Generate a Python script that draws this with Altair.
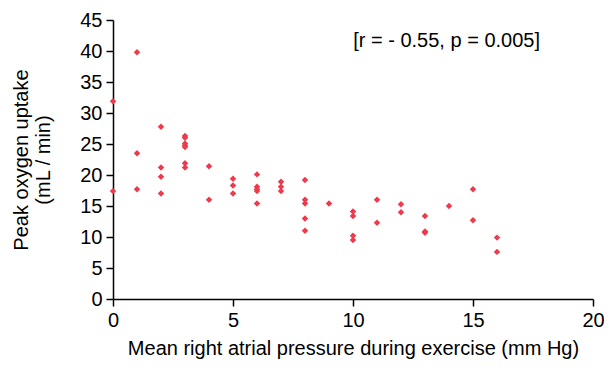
import altair as alt
import pandas as pd

pressure = [0, 0,
            1, 1, 1,
            2, 2, 2, 2,
            3, 3, 3, 3, 3, 3, 3,
            4, 4,
            5, 5, 5,
            6, 6, 6, 6, 6,
            7, 7, 7,
            8, 8, 8, 8, 8,
            9,
            10, 10, 10, 10,
            11, 11,
            12, 12,
            13, 13, 13,
            14,
            15, 15,
            16, 16]
uptake = [31.9, 17.4,
          39.8, 23.5, 17.7,
          27.8, 21.2, 19.7, 17.0,
          26.3, 26.0, 24.8, 24.5, 21.9, 21.2, 25.1,
          21.4, 16.0,
          19.4, 18.3, 17.0,
          20.1, 18.1, 17.7, 17.4, 15.4,
          18.9, 18.1, 17.4,
          19.2, 16.0, 15.4, 13.0, 11.0,
          15.4,
          14.1, 13.4, 10.2, 9.5,
          16.0, 12.3,
          15.3, 14.0,
          13.4, 10.9, 10.7,
          15.0,
          17.7, 12.7,
          9.9, 7.6]

x_ticks = [0, 5, 10, 15, 20]
y_ticks = [0, 5, 10, 15, 20, 25, 30, 35, 40, 45]

note_text = ["[r = - 0.55, p = 0.005]"]
note_x = [13.9]
note_y = [41.6]

df = pd.DataFrame({"x": pressure, "y": uptake})
notes = pd.DataFrame({"x": note_x, "y": note_y, "t": note_text})

FONT = "Liberation Sans"
FS = 20

xscale = alt.Scale(domain=[0, 20], nice=False, zero=True)
yscale = alt.Scale(domain=[0, 45], nice=False, zero=True)

common = dict(grid=False, domainColor="black", domainWidth=1.5,
              tickColor="black", tickSize=7, tickWidth=1.5,
              labelFont=FONT, labelFontSize=FS, labelColor="black",
              labelPadding=4, labelOverlap=False, labelFlush=False,
              titleFont=FONT, titleFontSize=FS, titleFontWeight="normal",
              titleColor="black")

xaxis = alt.Axis(title="Mean right atrial pressure during exercise (mm Hg)",
                 values=x_ticks, titlePadding=8, **common)
yaxis = alt.Axis(title=["Peak oxygen uptake", "(mL / min)"],
                 values=y_ticks, titlePadding=26, titleLineHeight=22, **common)

points = alt.Chart(df).mark_point(
    shape="diamond", filled=True, color="#ee3a4c", size=42, opacity=1
).encode(
    x=alt.X("x:Q", scale=xscale, axis=xaxis),
    y=alt.Y("y:Q", scale=yscale, axis=yaxis),
)

note = alt.Chart(notes).mark_text(
    font=FONT, fontSize=FS, color="black", align="center", baseline="middle"
).encode(
    x=alt.X("x:Q", scale=xscale, axis=xaxis),
    y=alt.Y("y:Q", scale=yscale, axis=yaxis),
    text="t:N",
)

chart = alt.layer(points, note).properties(
    width=480, height=279,
    autosize=alt.AutoSizeParams(type="none"),
    padding={"left": 105, "top": 12, "right": 11, "bottom": 60},
).configure_view(stroke=None)

chart.save("out.html", embed_options={"renderer": "svg", "actions": False})
